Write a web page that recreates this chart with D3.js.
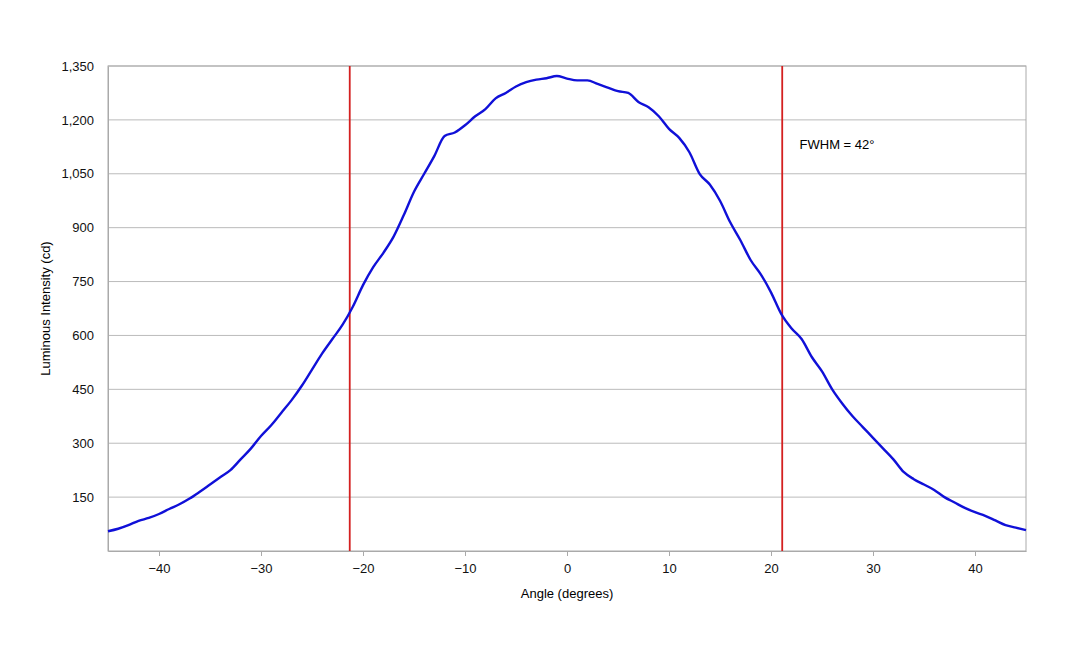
<!DOCTYPE html>
<html><head><meta charset="utf-8">
<script src="https://cdn.jsdelivr.net/npm/d3@7"></script>
<style>body{margin:0;background:#fff}text{font-family:"Liberation Sans",Arial,sans-serif}</style>
</head><body><svg id="chart" width="1080" height="648"></svg>
<script>
const angles = d3.range(-45, 46);
const intensity = [55,62,72,84,92,103,117,130,146,165,185,205,225,255,285,320,350,385,420,460,505,550,590,630,680,740,790,830,875,935,1000,1050,1100,1155,1165,1185,1210,1230,1260,1275,1293,1305,1312,1316,1322,1315,1310,1310,1300,1290,1280,1275,1250,1235,1210,1175,1150,1110,1050,1020,975,915,865,810,770,720,660,620,590,540,500,450,410,375,345,315,285,255,220,200,185,170,150,135,120,108,98,85,72,65,58];
const xTicks = [-40,-30,-20,-10,0,10,20,30,40];
const yTicks = [150,300,450,600,750,900,1050,1200,1350];
const fwhmLines = [-21.3, 21.1];
const fwhmLabel = "FWHM = 42°";

const svg = d3.select("#chart");
const pLeft = 108, pRight = 1026, pTop = 66, pBottom = 551;
const x = d3.scaleLinear().domain([-45, 45]).range([pLeft, pRight]);
const y = d3.scaleLinear().domain([0, 1350]).range([pBottom, pTop]);

// grid
svg.append("g").selectAll("line").data(yTicks).join("line")
  .attr("x1", pLeft).attr("x2", pRight).attr("y1", d => y(d)).attr("y2", d => y(d))
  .attr("stroke", "#bbb").attr("stroke-width", 1);
svg.append("rect").attr("x", pLeft).attr("y", pTop).attr("width", pRight - pLeft).attr("height", pBottom - pTop)
  .attr("fill", "none").attr("stroke", "#aaa");

// axes
const xa = svg.append("g").attr("transform", `translate(0,${pBottom})`)
  .call(d3.axisBottom(x).tickValues(xTicks).tickSize(5).tickSizeOuter(0));
const ya = svg.append("g").attr("transform", `translate(${pLeft},0)`)
  .call(d3.axisLeft(y).tickValues(yTicks).tickSize(0).tickPadding(14));
[xa, ya].forEach(a => {
  a.select(".domain").attr("stroke", "#aaa");
  a.selectAll(".tick line").attr("stroke", "#aaa");
  a.selectAll("text").attr("font-size", 13).attr("fill", "#111").attr("font-family", "Liberation Sans, Arial, sans-serif");
});
xa.selectAll("text").attr("dy", "1.1em");

svg.append("text").attr("x", (pLeft + pRight) / 2).attr("y", 598).attr("text-anchor", "middle")
  .attr("font-size", 13).text("Angle (degrees)");
svg.append("text").attr("transform", `translate(50,${(pTop + pBottom) / 2}) rotate(-90)`)
  .attr("text-anchor", "middle").attr("font-size", 13).text("Luminous Intensity (cd)");

// FWHM lines
svg.append("g").selectAll("line").data(fwhmLines).join("line")
  .attr("x1", d => x(d)).attr("x2", d => x(d)).attr("y1", pTop).attr("y2", pBottom)
  .attr("stroke", "#d42020").attr("stroke-width", 1.8);
svg.append("text").attr("x", x(22.8)).attr("y", y(1120)).attr("font-size", 13).text(fwhmLabel);

// curve
svg.append("path").datum(angles.map((a, i) => [a, intensity[i]]))
  .attr("fill", "none").attr("stroke", "#1010d8").attr("stroke-width", 2.4)
  .attr("d", d3.line().x(d => x(d[0])).y(d => y(d[1])).curve(d3.curveMonotoneX));
</script></body></html>
